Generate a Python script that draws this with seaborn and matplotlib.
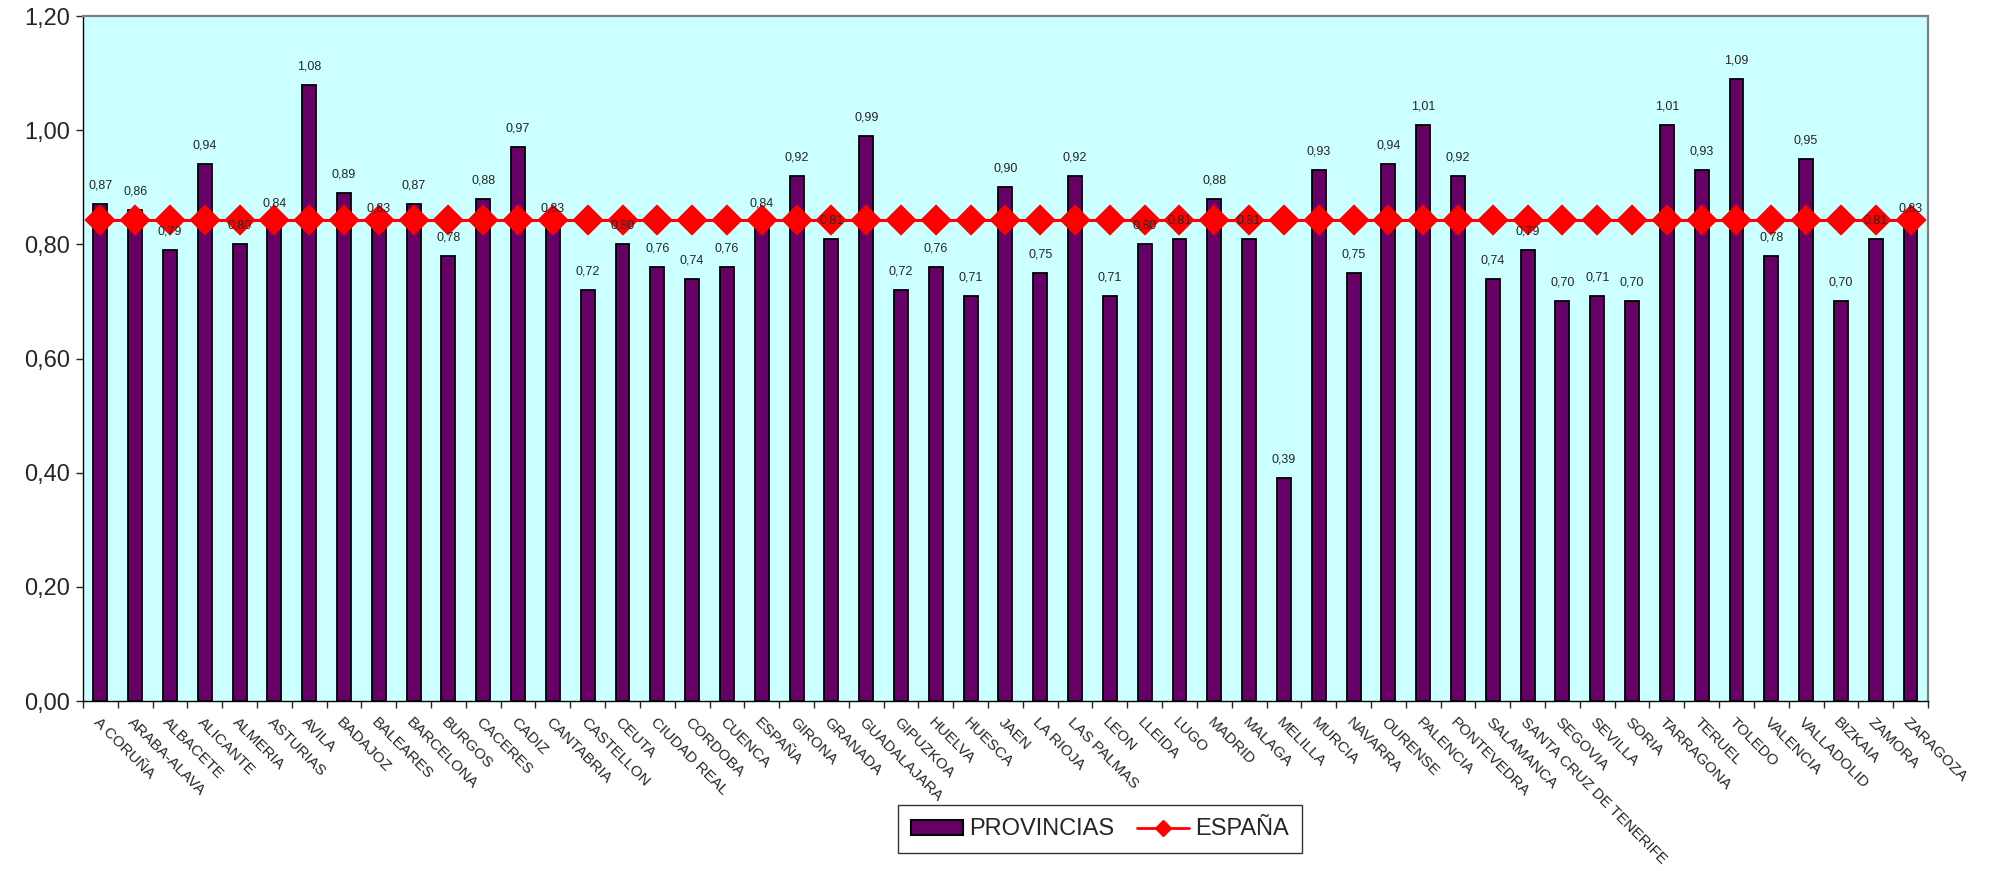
import numpy as np
import seaborn as sns
from matplotlib import pyplot as plt
from matplotlib.patches import Patch
from matplotlib.lines import Line2D
from matplotlib.ticker import FuncFormatter, FixedLocator

provincias = ["A CORUÑA", "ARABA-ALAVA", "ALBACETE", "ALICANTE", "ALMERIA", "ASTURIAS",
              "AVILA", "BADAJOZ", "BALEARES", "BARCELONA", "BURGOS", "CACERES", "CADIZ",
              "CANTABRIA", "CASTELLON", "CEUTA", "CIUDAD REAL", "CORDOBA", "CUENCA",
              "ESPAÑA", "GIRONA", "GRANADA", "GUADALAJARA", "GIPUZKOA", "HUELVA", "HUESCA",
              "JAEN", "LA RIOJA", "LAS PALMAS", "LEON", "LLEIDA", "LUGO", "MADRID", "MALAGA",
              "MELILLA", "MURCIA", "NAVARRA", "OURENSE", "PALENCIA", "PONTEVEDRA",
              "SALAMANCA", "SANTA CRUZ DE TENERIFE", "SEGOVIA", "SEVILLA", "SORIA",
              "TARRAGONA", "TERUEL", "TOLEDO", "VALENCIA", "VALLADOLID", "BIZKAIA",
              "ZAMORA", "ZARAGOZA"]
valores = [0.87, 0.86, 0.79, 0.94, 0.80, 0.84,
           1.08, 0.89, 0.83, 0.87, 0.78, 0.88, 0.97,
           0.83, 0.72, 0.80, 0.76, 0.74, 0.76,
           0.84, 0.92, 0.81, 0.99, 0.72, 0.76, 0.71,
           0.90, 0.75, 0.92, 0.71, 0.80, 0.81, 0.88, 0.81,
           0.39, 0.93, 0.75, 0.94, 1.01, 0.92,
           0.74, 0.79, 0.70, 0.71, 0.70,
           1.01, 0.93, 1.09, 0.78, 0.95, 0.70,
           0.81, 0.83]
espana_media = 0.842
espana = [espana_media] * len(provincias)
yticks = [0.0, 0.2, 0.4, 0.6, 0.8, 1.0, 1.2]

sns.set_style("white")
plt.rcParams['font.family'] = ['Liberation Sans', 'DejaVu Sans']

fig, ax = plt.subplots(figsize=(19.89, 8.71), dpi=100)
fig.subplots_adjust(left=0.0417, right=0.9693, bottom=0.195, top=0.9816)
ax.set_facecolor("#CCFFFF")

sns.barplot(x=provincias, y=valores, color="#660066", saturation=1, width=0.4,
            edgecolor="black", linewidth=1.3, ax=ax, zorder=2)
sns.pointplot(x=provincias, y=espana, color="red", markers="D", markersize=14.5,
              linewidth=2.2, ax=ax, zorder=3)

ax.bar_label(ax.containers[0], labels=[f"{v:.2f}".replace(".", ",") for v in valores],
             padding=9, fontsize=9, zorder=5)

ax.set_xlim(-0.5, len(provincias) - 0.5)
ax.set_ylim(0, 1.2)
ax.set_yticks(yticks)
ax.yaxis.set_major_formatter(FuncFormatter(lambda v, p: f"{v:.2f}".replace(".", ",")))
ax.tick_params(axis="y", labelsize=17, direction="out", length=5, width=1, left=True, pad=4)

ax.set_xticks(range(len(provincias)))
ax.set_xticklabels(provincias, rotation=-45, ha="left", rotation_mode="anchor", fontsize=11)
ax.tick_params(axis="x", which="major", length=0, pad=10)
ax.xaxis.set_minor_locator(FixedLocator(np.arange(len(provincias) + 1) - 0.5))
ax.tick_params(axis="x", which="minor", direction="out", length=5, width=1, bottom=True)

ax.set_xlabel("")
ax.set_ylabel("")
for s in ["left", "bottom"]:
    ax.spines[s].set_color("black")
    ax.spines[s].set_linewidth(1)
for s in ["top", "right"]:
    ax.spines[s].set_color("#808080")
    ax.spines[s].set_linewidth(1.6)

handles = [Patch(facecolor="#660066", edgecolor="black", linewidth=1.5, label="PROVINCIAS"),
           Line2D([], [], color="red", marker="D", markersize=8, linewidth=2, label="ESPAÑA")]
leg = fig.legend(handles=handles, loc="center", bbox_to_anchor=(0.553, 0.0477), ncol=2,
                 fontsize=17, frameon=True, fancybox=False, edgecolor="black",
                 handlelength=2.2, handleheight=0.6, handletextpad=0.25,
                 columnspacing=1.0, borderpad=0.55)
leg.get_frame().set_linewidth(1)

fig.savefig("out.png", dpi=100)
